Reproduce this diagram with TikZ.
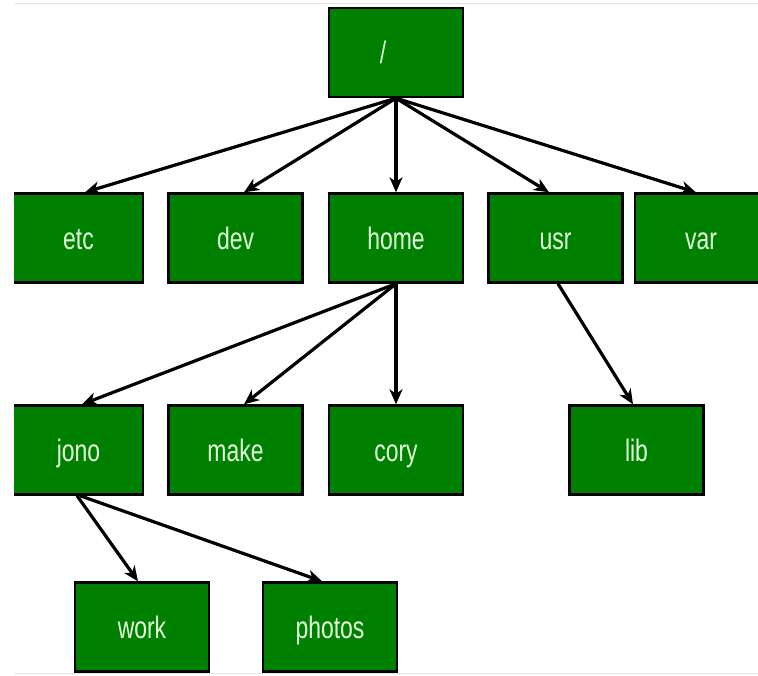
\documentclass[tikz,border=0pt]{standalone}
\usepackage{fontspec}
\setmainfont{Liberation Sans}
\usepackage{graphicx}
\usetikzlibrary{arrows.meta}
\definecolor{boxgreen}{HTML}{008000}
\definecolor{txtgreen}{HTML}{E4FFDC}
\newcommand\narrowtxt[1]{\scalebox{0.74}[1]{#1}}
\begin{document}
\begin{tikzpicture}[x=1pt,y=-1pt,
  dirbox/.style={draw=black, line width=2.4pt, fill=boxgreen, minimum width=134pt,
    minimum height=89pt, inner sep=0pt, text=txtgreen, text height=24pt, text depth=2pt,
    font=\fontsize{31}{31}\selectfont},
  link/.style={line width=3.2pt, -{Stealth[length=15pt,width=13pt,inset=4.5pt]}},
  frameline/.style={draw=black!10, line width=0.8pt}]
\useasboundingbox (0,0) rectangle (758,675);
\clip (14,0) rectangle (758,675);
\draw[frameline] (14,3) -- (758,3);
\draw[frameline] (14,673) -- (758,673);
% nodes
\node[dirbox] (root) at (396,52.5) {\hspace*{-26pt}\narrowtxt{/}};
\node[dirbox] (etc) at (76,238) {\hspace*{5pt}\narrowtxt{etc}};
\node[dirbox] (dev) at (235.5,238) {\narrowtxt{dev}};
\node[dirbox] (home) at (396,238) {\narrowtxt{home}};
\node[dirbox] (usr) at (555.5,238) {\narrowtxt{usr}};
\node[dirbox] (var) at (702,238) {\hspace*{-2pt}\narrowtxt{var}};
\node[dirbox] (jono) at (76,450) {\hspace*{5pt}\narrowtxt{jono}};
\node[dirbox] (make) at (235.5,450) {\narrowtxt{make}};
\node[dirbox] (cory) at (396,450) {\narrowtxt{cory}};
\node[dirbox] (lib) at (636.5,450) {\narrowtxt{lib}};
\node[dirbox] (work) at (142,627) {\narrowtxt{work}};
\node[dirbox] (photos) at (330,627) {\narrowtxt{photos}};
% connectors
\draw[link] (root.south) -- ([xshift=9pt]etc.north);
\draw[link] (root.south) -- ([xshift=8.5pt]dev.north);
\draw[link] (root.south) -- (home.north);
\draw[link] (root.south) -- ([xshift=-6.5pt]usr.north);
\draw[link] (root.south) -- ([xshift=-6pt]var.north);
\draw[link] (home.south) -- ([xshift=6pt]jono.north);
\draw[link] (home.south) -- ([xshift=8.5pt]make.north);
\draw[link] (home.south) -- (cory.north);
\draw[link] ([xshift=2.5pt]usr.south) -- ([xshift=-3.5pt]lib.north);
\draw[link] ([xshift=1pt]jono.south) -- ([xshift=-4pt]work.north);
\draw[link] ([xshift=4pt]jono.south) -- ([xshift=-8pt]photos.north);
\end{tikzpicture}
\end{document}
